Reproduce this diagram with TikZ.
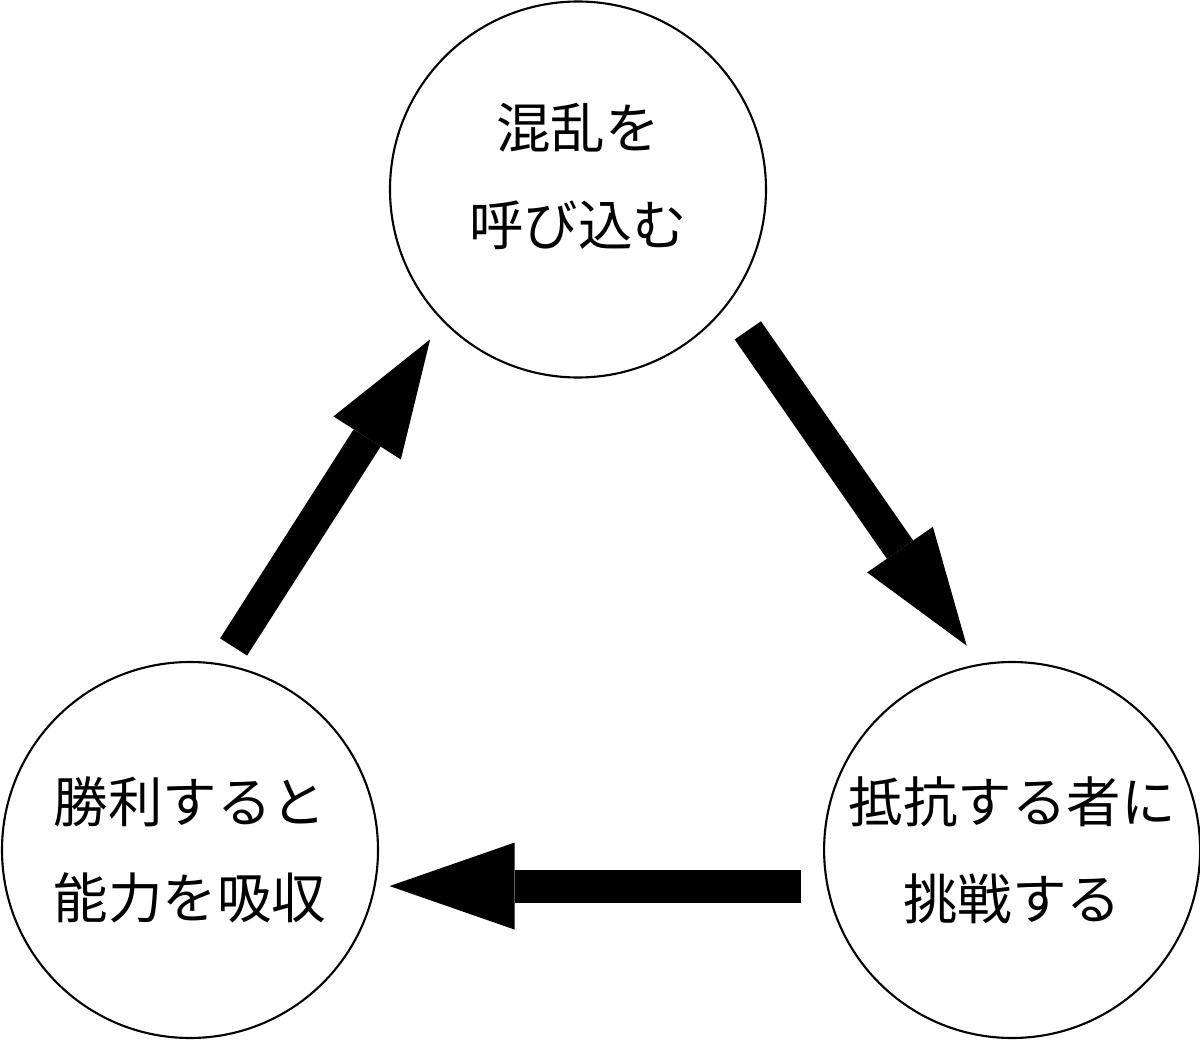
\documentclass[tikz,border=0pt]{standalone}
\usepackage{fontspec}
\setmainfont{Noto Sans CJK JP}
\usepackage{tikz}
\usetikzlibrary{arrows.meta}
\usetikzlibrary{shapes,positioning}
\tikzset{cycle-node/.style={
        draw,
        circle,
        line width=0.6pt,
        minimum size=3.76cm,
        inner sep=0,
        align=center,
        font=\fontsize{15.5pt}{27.5pt}\selectfont
    }
}
\tikzset{cycle-arrow/.style={line width=0.32cm, -{Triangle[length=1.17cm, width=0.8cm, line width=0pt]}}}
\tikzset{wide-arrow/.style={line width=0.33cm, -{Triangle[length=1.25cm, width=0.87cm, line width=0pt]}}}

\begin{document}
\begin{tikzpicture}[]
            \useasboundingbox (0,0) rectangle (12,10.41);
            \node[cycle-node, text depth=0.3cm] (chaos) at (5.78,8.515) {混乱を\\呼び込む};
            \node[cycle-node] (absorb) at (1.90,1.91) {勝利すると\\能力を吸収};
            \node[cycle-node, right=4.44cm of absorb] (challenge) {抵抗する者に\\挑戦する};

            \draw[cycle-arrow, shorten <=0.33cm, shorten >=0.22cm] (chaos.-37.3) -- (challenge.100.8);
            \draw[wide-arrow, shorten <=0.26cm, shorten >=0.14cm] (challenge.191.4) -- (absorb.-11.4);
            \draw[cycle-arrow, shorten <=0.2cm, shorten >=0.22cm] (absorb.80.8) -- (chaos.224.7);
        \end{tikzpicture}
\end{document}
